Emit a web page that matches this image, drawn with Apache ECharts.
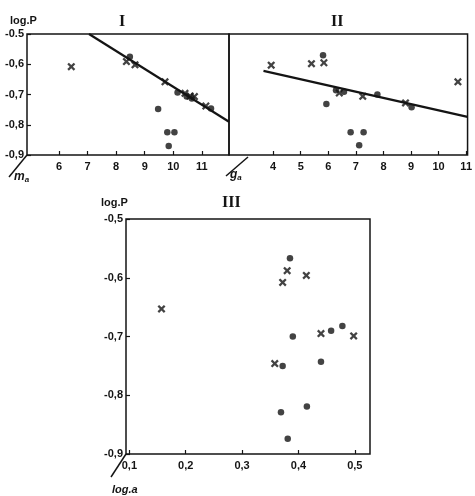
<!DOCTYPE html>
<html>
<head>
<meta charset="utf-8">
<script src="https://cdn.jsdelivr.net/npm/echarts@6/dist/echarts.min.js"></script>
<style>
  html, body { margin: 0; padding: 0; background: #fff; }
  #chart { width: 475px; height: 496px; }
</style>
</head>
<body>
<div id="chart"></div>
<script>
// panel I : log.P against m_a
var p1Crosses = [[6.43, -0.608], [8.36, -0.591], [8.66, -0.602], [9.71, -0.658], [10.41, -0.696], [10.59, -0.705], [10.74, -0.707], [11.14, -0.738]];
var p1Dots = [[8.48, -0.575], [10.15, -0.693], [10.47, -0.707], [10.65, -0.713], [11.32, -0.746], [9.47, -0.748], [9.79, -0.825], [10.04, -0.825], [9.84, -0.870]];
var p1Line = [[7.05, -0.5], [11.95, -0.79]];
var p1Ticks = [6, 7, 8, 9, 10, 11];

// panel II : log.P against g_a
var p2Crosses = [[3.93, -0.603], [5.39, -0.598], [5.84, -0.595], [6.40, -0.695], [7.25, -0.706], [8.80, -0.728], [10.70, -0.658]];
var p2Dots = [[5.81, -0.570], [5.93, -0.731], [6.28, -0.686], [6.57, -0.691], [7.78, -0.700], [9.02, -0.742], [6.81, -0.825], [7.28, -0.825], [7.12, -0.868]];
var p2Line = [[3.65, -0.622], [11.05, -0.774]];
var p2Ticks = [4, 5, 6, 7, 8, 9, 10, 11];

// panel III : log.P against log.a
var p3Crosses = [[0.157, -0.653], [0.380, -0.588], [0.372, -0.608], [0.414, -0.596], [0.440, -0.695], [0.498, -0.699], [0.358, -0.746]];
var p3Dots = [[0.385, -0.567], [0.390, -0.700], [0.458, -0.690], [0.478, -0.682], [0.372, -0.750], [0.440, -0.743], [0.369, -0.829], [0.415, -0.819], [0.381, -0.874]];
var p3Ticks = [0.1, 0.2, 0.3, 0.4, 0.5];
var p3TickLabels = ["0,1", "0,2", "0,3", "0,4", "0,5"];

var yTickLabels1 = { "-0.9": "-0,9", "-0.8": "-0,8", "-0.7": "-0,7", "-0.6": "-0,6", "-0.5": "-0.5" };
var yTickLabels3 = { "-0.9": "-0,9", "-0.8": "-0,8", "-0.7": "-0,7", "-0.6": "-0,6", "-0.5": "-0,5" };

var ink = "#141414";
var labelFont = { color: ink, fontFamily: "Liberation Sans", fontWeight: "bold", fontSize: 11 };
var crossPath = "path://M0,2 L2,0 L5,3 L8,0 L10,2 L7,5 L10,8 L8,10 L5,7 L2,10 L0,8 L3,5 Z";

function xAxisFor(idx, min, max, ticks, fmt) {
  return {
    type: "value", gridIndex: idx, min: min, max: max,
    axisLine: { show: false },
    splitLine: { show: false },
    axisTick: { show: true, inside: true, length: 4, customValues: ticks, lineStyle: { color: ink, width: 1.2 } },
    axisLabel: Object.assign({ show: true, margin: 6, customValues: ticks, formatter: fmt }, labelFont)
  };
}
function yAxisFor(idx, showLabels, labels) {
  return {
    type: "value", gridIndex: idx, min: -0.9, max: -0.5, interval: 0.1,
    axisLine: { show: false },
    splitLine: { show: false },
    axisTick: { show: showLabels, inside: true, length: 4, lineStyle: { color: ink, width: 1.2 } },
    axisLabel: Object.assign({
      show: showLabels, margin: 3,
      formatter: function (v) { return labels ? labels[v.toFixed(1)] : ""; }
    }, labelFont)
  };
}
function crosses(idx, data) {
  return { type: "scatter", xAxisIndex: idx, yAxisIndex: idx, data: data, symbol: crossPath, symbolSize: 8, itemStyle: { color: ink }, silent: true };
}
function dots(idx, data) {
  return { type: "scatter", xAxisIndex: idx, yAxisIndex: idx, data: data, symbol: "circle", symbolSize: 6.5, itemStyle: { color: ink }, silent: true };
}
function fitLine(idx, data) {
  return { type: "line", xAxisIndex: idx, yAxisIndex: idx, data: data, showSymbol: false, lineStyle: { color: ink, width: 2.2 }, silent: true, z: 1 };
}

var gridStyle = { show: true, borderColor: ink, borderWidth: 1.5, backgroundColor: "transparent" };

var chart = echarts.init(document.getElementById("chart"));
chart.setOption({
  backgroundColor: "#fff",
  animation: false,
  grid: [
    Object.assign({ left: 27, top: 34, width: 202, height: 121 }, gridStyle),
    Object.assign({ left: 229, top: 34, width: 241, height: 121 }, gridStyle),
    Object.assign({ left: 126, top: 219, width: 244, height: 235 }, gridStyle)
  ],
  xAxis: [
    xAxisFor(0, 4.88, 11.95, p1Ticks, function (v) { return String(v); }),
    xAxisFor(1, 2.4, 11.05, p2Ticks, function (v) { return String(v); }),
    xAxisFor(2, 0.094, 0.527, p3Ticks, function (v) { return p3TickLabels[p3Ticks.indexOf(Math.round(v * 10) / 10)]; })
  ],
  yAxis: [
    yAxisFor(0, true, yTickLabels1),
    yAxisFor(1, false, null),
    yAxisFor(2, true, yTickLabels3)
  ],
  graphic: [
    { type: "text", left: 10, top: 15, style: { text: "log.P", fill: ink, font: "bold 11px Liberation Sans" } },
    { type: "text", left: 101, top: 197, style: { text: "log.P", fill: ink, font: "bold 11px Liberation Sans" } },
    { type: "text", left: 119, top: 14, style: { text: "I", fill: ink, font: "bold 16px Liberation Serif" } },
    { type: "text", left: 331, top: 14, style: { text: "II", fill: ink, font: "bold 16px Liberation Serif" } },
    { type: "text", left: 222, top: 195, style: { text: "III", fill: ink, font: "bold 16px Liberation Serif" } },
    { type: "text", left: 14, top: 171, style: { text: "{m|m}{s|a}", rich: { m: { fill: ink, font: "italic bold 12px Liberation Sans" }, s: { fill: ink, font: "italic bold 8px Liberation Sans", padding: [6, 0, 0, 0] } } } },
    { type: "text", left: 230, top: 169, style: { text: "{m|g}{s|a}", rich: { m: { fill: ink, font: "italic bold 12px Liberation Sans" }, s: { fill: ink, font: "italic bold 8px Liberation Sans", padding: [6, 0, 0, 0] } } } },
    { type: "text", left: 112, top: 484, style: { text: "log.a", fill: ink, font: "italic bold 11px Liberation Sans" } },
    { type: "line", shape: { x1: 27, y1: 155, x2: 9, y2: 177 }, style: { stroke: ink, lineWidth: 1.5 } },
    { type: "line", shape: { x1: 248, y1: 157, x2: 226, y2: 176 }, style: { stroke: ink, lineWidth: 1.5 } },
    { type: "line", shape: { x1: 126, y1: 454, x2: 111, y2: 477 }, style: { stroke: ink, lineWidth: 1.5 } }
  ],
  series: [
    fitLine(0, p1Line), crosses(0, p1Crosses), dots(0, p1Dots),
    fitLine(1, p2Line), crosses(1, p2Crosses), dots(1, p2Dots),
    crosses(2, p3Crosses), dots(2, p3Dots)
  ]
});
</script>
</body>
</html>
